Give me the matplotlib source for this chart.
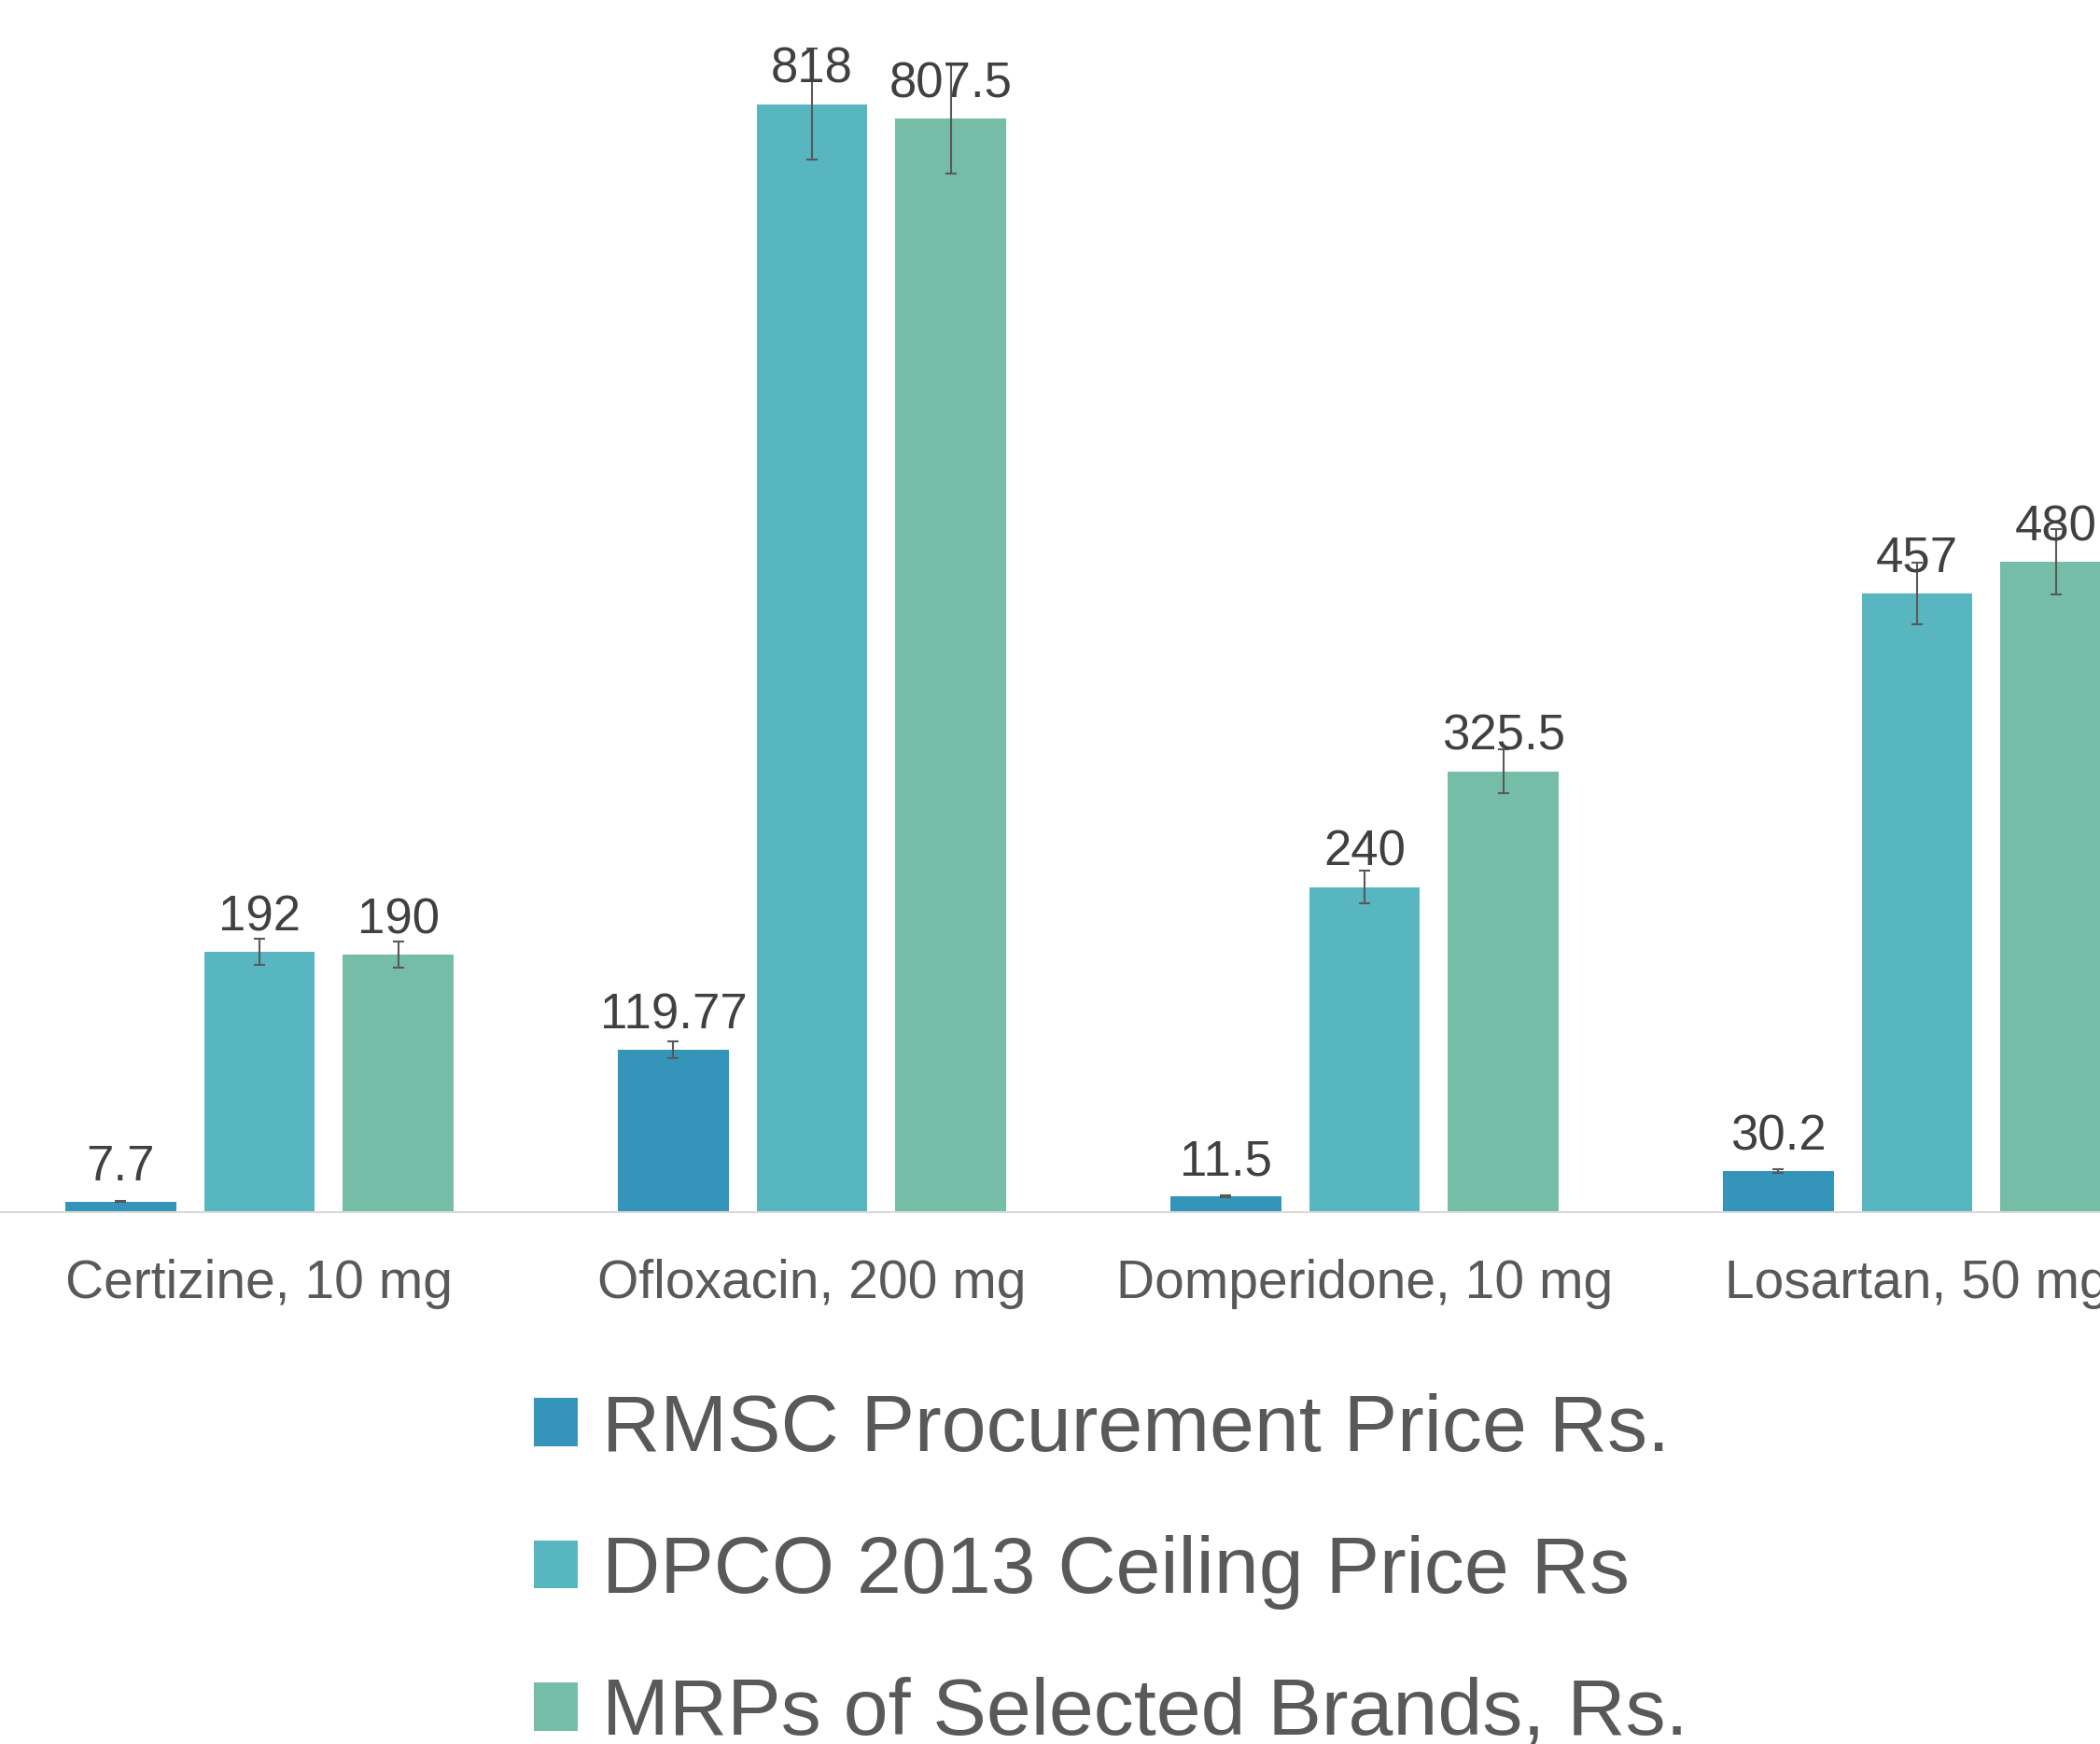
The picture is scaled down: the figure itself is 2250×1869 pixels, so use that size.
import matplotlib
matplotlib.use("Agg")
import matplotlib.pyplot as plt
import numpy as np

categories = ["Certizine, 10 mg", "Ofloxacin, 200 mg", "Domperidone, 10 mg", "Losartan, 50 mg"]
series_names = ["RMSC Procurement Price Rs.", "DPCO 2013 Ceiling Price Rs", "MRPs of Selected Brands, Rs."]
rmsc = [7.7, 119.77, 11.5, 30.2]
dpco = [192, 818, 240, 457]
mrp = [190, 807.5, 325.5, 480]
labels_rmsc = ["7.7", "119.77", "11.5", "30.2"]
labels_dpco = ["192", "818", "240", "457"]
labels_mrp = ["190", "807.5", "325.5", "480"]

ERR_FRACTION = 0.05  # Excel percentage error bars
colors = ["#3494BA", "#58B6C0", "#75BDA7"]

plt.rcParams['font.family'] = ['Liberation Sans', 'DejaVu Sans']

W, H = 2250, 1869
fig = plt.figure(figsize=(W / 100, H / 100), dpi=100)
axis_y = 1299
ax = fig.add_axes([-18 / W, (H - axis_y) / H, 592 * 4 / W, axis_y / H])

x = np.arange(len(categories))
bw = 0.201
step = 0.251
series = [rmsc, dpco, mrp]
labels = [labels_rmsc, labels_dpco, labels_mrp]
handles = []
for i, (vals, lab, col, name) in enumerate(zip(series, labels, colors, series_names)):
    pos = x + (i - 1) * step
    v = np.array(vals)
    b = ax.bar(pos, v, width=bw, color=col, label=name, zorder=2)
    handles.append(b)
    ax.errorbar(pos, v, yerr=v * ERR_FRACTION, fmt='none', ecolor='#595959',
                elinewidth=1.5, capsize=4.5, capthick=1.5, zorder=3)
    for p, val, t in zip(pos, v, lab):
        ax.annotate(t, (p, val), xytext=(0, 16.5), textcoords='offset points',
                    ha='center', va='baseline', fontsize=38, color='#404040', zorder=4)

ax.set_xlim(-0.5, 3.5)
ax.set_ylim(0, 895)
ax.set_yticks([])
ax.set_xticks(x)
ax.set_xticklabels(categories, fontsize=41, color='#595959')
ax.tick_params(axis='x', length=0, pad=36)
for s in ['top', 'left', 'right']:
    ax.spines[s].set_visible(False)
ax.spines['bottom'].set_color('#d9d9d9')
ax.spines['bottom'].set_linewidth(1.5)
ax.patch.set_alpha(0)

leg = fig.legend(handles=handles, labels=series_names, loc='center left',
                 bbox_to_anchor=(572 / W, 1 - 1685 / H), frameon=False,
                 fontsize=62, handlelength=0.55, handleheight=0.55,
                 handletextpad=0.3, labelspacing=0.84, borderpad=0, borderaxespad=0)
for t in leg.get_texts():
    t.set_color('#595959')

fig.savefig("out.png", dpi=100)
